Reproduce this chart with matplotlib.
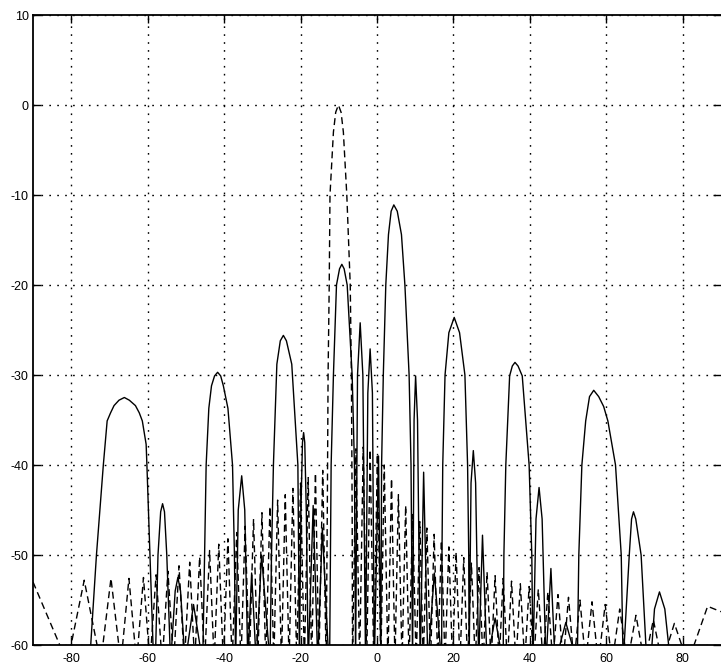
import matplotlib
matplotlib.use("Agg")
import matplotlib.pyplot as plt

# solid pattern: lobe edges / peaks (nulls drawn at -62, clipped)
solid_x = [-75.2, -74.9, -73.4, -71.6, -70.6, -69.7, -68.8, -67.5, -66.1, -64.8, -63.2, -62.2, -61.4, -60.4, -60.2, -59.4, -58.6,
           -58.0, -57.3, -56.6, -56.1, -55.6, -55.0, -54.0,
           -52.8, -52.1, -51.4, -50.2,
           -48.0, -45.6,
           -45.1, -44.7, -44.0, -43.3, -42.5, -41.7, -40.9, -40.2, -39.0, -37.8, -37.3, -37.0,
           -36.3, -35.4, -34.6, -33.8,
           -32.8, -31.6, -30.2, -28.0,
           -27.6, -27.1, -26.2, -25.3, -24.5, -23.7, -22.3, -20.7, -20.5, -20.3,
           -19.9, -19.5, -19.2, -18.9, -18.5, -18.0,
           -16.7, -15.5, -14.3, -12.6,
           -12.4, -12.0, -11.4, -10.6, -9.8, -9.2, -8.6, -7.8, -6.5, -5.9, -5.6,
           -5.1, -4.4, -3.7, -3.0,
           -2.4, -1.8, -1.2, -0.7,
           0.4, 1.0,
           1.2, 1.65, 2.3, 3.0, 3.7, 4.4, 5.3, 6.4, 7.3, 8.4, 8.9, 9.3,
           9.7, 10.1, 10.6, 11.3,
           12.2, 13.3,
           15.0, 16.9,
           17.0, 17.2, 17.8, 18.8, 20.2, 21.6, 23.0, 23.7, 24.0, 24.1,
           24.6, 25.2, 25.8, 26.6,
           27.6, 28.8,
           30.9, 33.0,
           33.2, 33.7, 34.7, 35.4, 36.1, 36.9, 38.0, 39.8, 40.5, 40.8,
           41.6, 42.4, 43.2, 44.2,
           45.5, 46.6,
           49.4, 52.4,
           52.8, 53.6, 54.6, 55.6, 56.7, 58.0, 59.3, 60.4, 62.4, 63.9, 64.4,
           66.0, 66.6, 67.1, 67.7, 69.1, 70.6,
           71.6, 72.6, 73.9, 75.3, 76.8]
solid_y = [-62, -60, -50, -40, -35.1, -34.2, -33.4, -32.8, -32.5, -32.8, -33.4, -34.2, -35.1, -37.7, -40, -50, -60,
           -62, -50, -45.2, -44.3, -45.2, -50, -62,
           -54, -52.5, -54, -62,
           -55.5, -62,
           -50, -40, -33.7, -31.2, -30.1, -29.7, -30.1, -31.2, -33.7, -40, -50, -62,
           -45, -41.2, -45, -62,
           -52, -62, -50, -62,
           -50, -40, -28.8, -26.2, -25.6, -26.2, -28.8, -40, -50, -62,
           -45, -37.5, -36.4, -37.5, -45, -62,
           -44.5, -62, -47, -62,
           -62, -40, -30, -20, -18.2, -17.7, -18.2, -20, -30, -40, -62,
           -30, -24.2, -30, -62,
           -32, -27.1, -32, -62,
           -39, -62,
           -40, -30, -20, -14.4, -11.8, -11.1, -11.8, -14.4, -20, -30, -40, -62,
           -35, -30.1, -35, -62,
           -40.8, -62,
           -52, -62,
           -50, -40, -30, -25.3, -23.6, -25.3, -30, -40, -50, -62,
           -42, -38.4, -42, -62,
           -47.8, -62,
           -57, -62,
           -50, -40, -30.1, -29.0, -28.6, -29.0, -30.1, -40, -50, -62,
           -46, -42.5, -46, -62,
           -51.5, -62,
           -57.5, -62,
           -50, -40, -35.1, -32.4, -31.7, -32.4, -33.5, -35.1, -40, -50, -62,
           -50, -46, -45.2, -46, -50, -62,
           -62, -56, -54.1, -56, -62]

# dashed pattern: left sidelobes, main beam at -10 deg, right sidelobes
dash_x = [-90.0, -81.0, -76.6, -72.3, -69.6, -67.0, -64.9, -62.9, -61.1, -59.4, -57.8, -56.2, -54.7, -53.2,
          -51.8, -50.4, -49.0, -47.7, -46.4, -45.1, -43.8, -42.6, -41.4, -40.2, -39.0, -37.9, -36.7, -35.6,
          -34.5, -33.4, -32.3, -31.2, -30.1, -29.1, -28.0, -27.0, -26.0, -25.0, -24.0, -23.0, -22.0, -21.0,
          -20.0, -19.0, -18.0, -17.1, -16.1, -15.2, -14.2, -13.3,
          -13.0, -12.8, -12.5, -12.3, -11.4, -10.8, -10.1, -9.4, -8.8, -7.9, -7.0, -6.7, -6.5, -6.4,
          -5.5, -4.55, -3.6, -2.7, -1.8, -0.85, 0.1, 1.0, 1.9, 2.85, 3.8, 4.7, 5.6, 6.55, 7.5, 8.4, 9.3,
          10.25, 11.2, 12.1, 13.05, 14.0, 14.95, 15.9, 16.85, 17.8, 18.8, 19.75, 20.7, 21.7, 22.7, 23.7,
          24.7, 25.7, 26.7, 27.75, 28.8, 29.85, 30.9, 31.95, 33.0, 34.1, 35.2, 36.35, 37.5, 38.65, 39.8,
          41.0, 42.2, 43.45, 44.7, 46.0, 47.35, 48.7, 50.1, 51.55, 53.1, 54.6, 56.25, 57.9, 59.7, 61.5,
          63.5, 65.5, 67.75, 70.0, 72.3, 74.6, 77.8, 81.3, 86.5, 90.0]
dash_y = [-53.0, -62, -52.8, -62, -52.6, -62, -52.6, -62, -52.5, -62, -52.2, -62, -51.8, -62,
          -51.2, -62, -50.8, -62, -50.2, -62, -49.5, -62, -48.8, -62, -48.2, -62, -47.5, -62,
          -46.8, -62, -46.0, -62, -45.3, -62, -44.6, -62, -43.9, -62, -43.3, -62, -42.6, -62,
          -42.0, -62, -41.4, -62, -40.9, -62, -40.6, -62,
          -45, -30, -20, -10, -3, -0.8, 0, -0.8, -3, -10, -20, -30, -45, -62,
          -38.2, -62, -38.0, -62, -38.3, -62, -38.8, -62, -40.0, -62, -41.5, -62, -43.3, -62, -44.5, -62, -45.5,
          -62, -46.3, -62, -47.0, -62, -47.7, -62, -48.4, -62, -49.1, -62, -49.7, -62, -50.3, -62,
          -50.9, -62, -51.4, -62, -51.9, -62, -52.3, -62, -52.6, -62, -52.9, -62, -53.2, -62, -53.5,
          -62, -53.8, -62, -54.1, -62, -54.4, -62, -54.7, -62, -55.0, -62, -55.2, -62, -55.5, -62,
          -56.0, -62, -56.7, -62, -57.2, -62, -57.6, -62, -55.7, -56.3]

x_ticks = [-80, -60, -40, -20, 0, 20, 40, 60, 80]
y_ticks = [-60, -50, -40, -30, -20, -10, 0, 10]

plt.rcParams['font.family'] = ['Liberation Sans', 'DejaVu Sans']
plt.rcParams['axes.unicode_minus'] = False

fig = plt.figure(figsize=(7.21, 6.70), dpi=100)
# axes box: left edge at px 33, y=-60 at px 645, y=10 at px 15 (from top)
ax = fig.add_axes([33 / 721, 25 / 670, 1 - 33 / 721, 630 / 670])

ax.plot(solid_x, solid_y, color='black', lw=1.0)
ax.plot(dash_x, dash_y, color='black', lw=1.0, linestyle=(0, (5, 3)))

ax.set_xlim(-90, 90)
ax.set_ylim(-60, 10)
ax.set_xticks(x_ticks)
ax.set_yticks(y_ticks)
ax.grid(True, color='black', linestyle=(0, (1.2, 4.5)), lw=1.0)
ax.tick_params(direction='in', length=6, width=1.0, top=True, right=True, labelsize=9, colors='black')
ax.tick_params(axis='x', pad=6)
ax.tick_params(axis='y', pad=3)
for side in ['top', 'left', 'bottom']:
    ax.spines[side].set_linewidth(1.3)
ax.spines['right'].set_visible(False)

fig.savefig('out.png', dpi=100)
